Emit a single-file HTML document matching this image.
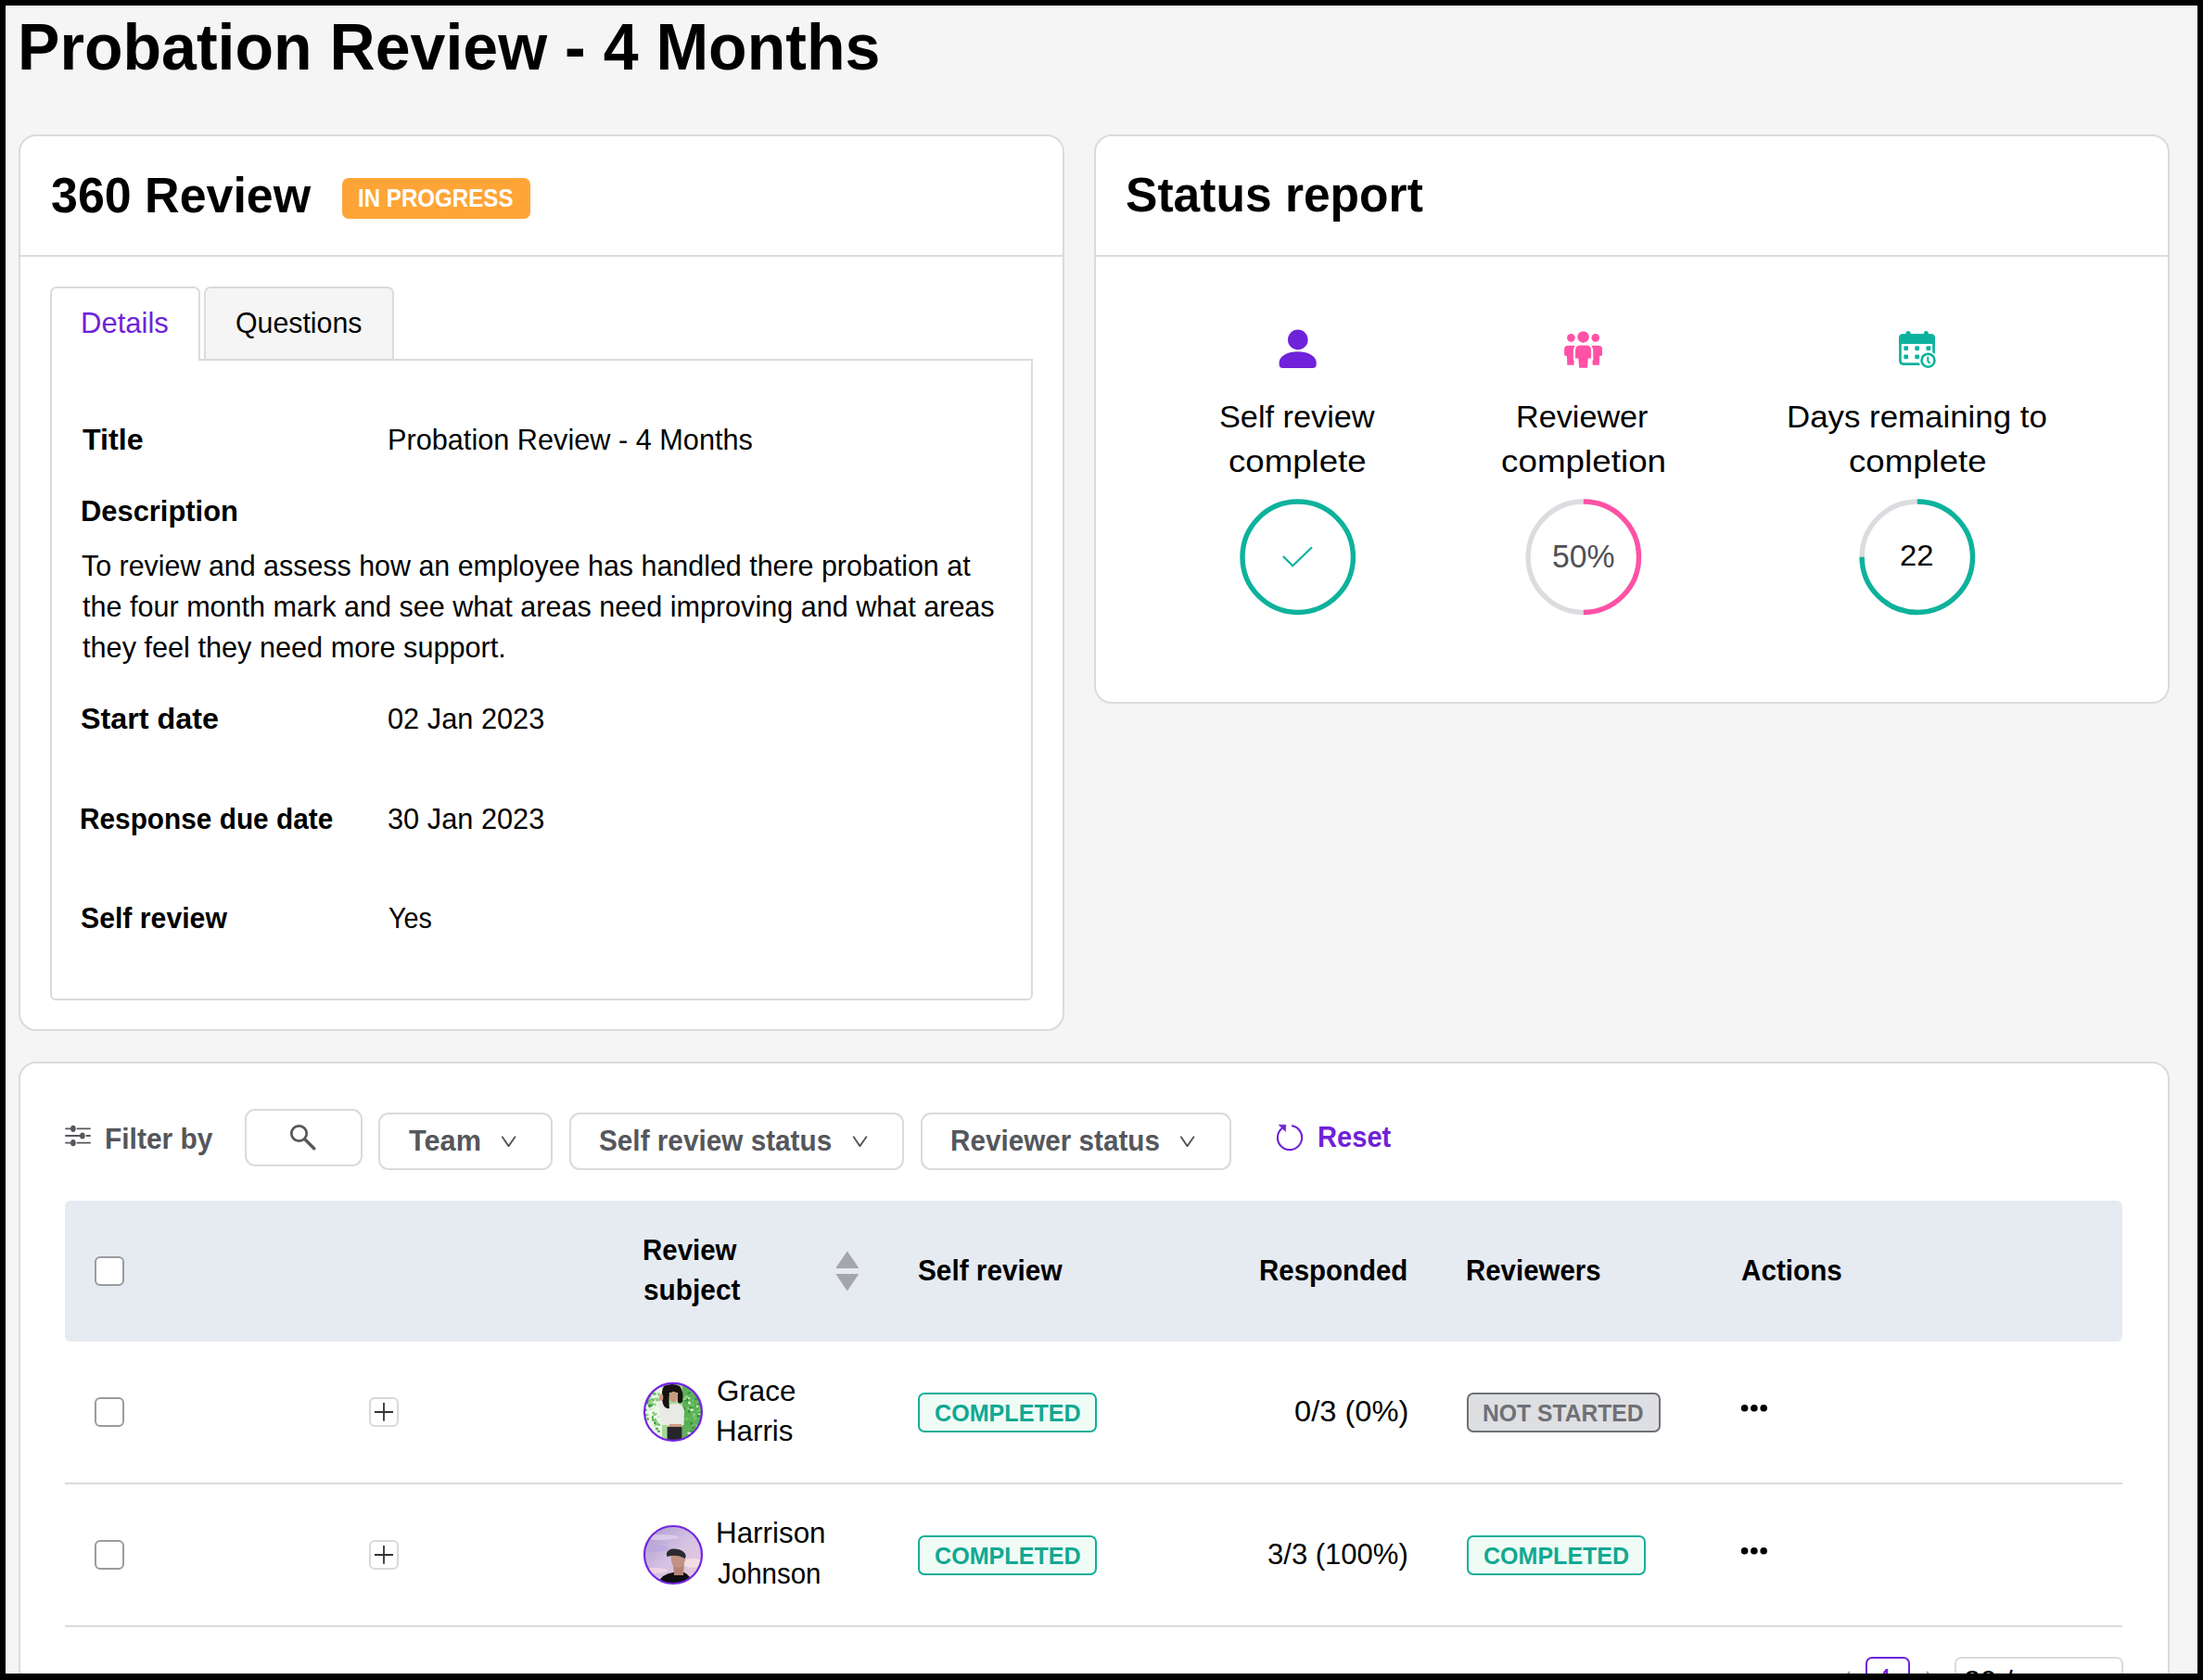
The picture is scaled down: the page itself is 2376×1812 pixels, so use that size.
<!DOCTYPE html>
<html><head><meta charset="utf-8"><style>
html,body{margin:0;padding:0}
body{width:2376px;height:1812px;overflow:hidden;background:#000;position:relative;font-family:"Liberation Sans",sans-serif}
.t{position:absolute;white-space:nowrap;transform-origin:0 0}
</style></head><body>
<div style="position:absolute;left:6px;top:6px;width:2364px;height:1799px;background:#F5F5F5;box-shadow:inset 0 0 0 1px #fff"></div>
<div class="t" style="left:19.36px;top:9.00px;font-size:69.75px;line-height:84px;font-weight:700;color:#000;transform:scaleX(0.9759);">Probation Review - 4 Months</div>
<div style="position:absolute;left:20px;top:145px;width:1128px;height:967px;background:#fff;border:2px solid #DADAE0;box-sizing:border-box;border-radius:19px"></div>
<div style="position:absolute;left:20px;top:275px;width:1128px;height:2px;background:#DADAE0"></div>
<div class="t" style="left:55.19px;top:177.60px;font-size:53.75px;line-height:64px;font-weight:700;color:#000;transform:scaleX(0.9666);">360 Review</div>
<div style="position:absolute;left:369px;top:192px;width:203px;height:44px;background:#FFA538;border-radius:7px"></div>
<div class="t" style="left:386.42px;top:198.40px;font-size:26.75px;line-height:32px;font-weight:700;color:#fff;transform:scaleX(0.9016);">IN PROGRESS</div>
<div style="position:absolute;left:54px;top:387px;width:1060px;height:692px;border:2px solid #DADAE0;box-sizing:border-box;border-radius:0 0 6px 6px;background:#fff"></div>
<div style="position:absolute;left:220px;top:309px;width:205px;height:78px;border:2px solid #DADAE0;border-bottom:none;box-sizing:border-box;border-radius:7px 7px 0 0;background:#F5F5F5"></div>
<div style="position:absolute;left:54px;top:309px;width:162px;height:80px;border:2px solid #DADAE0;border-bottom:none;box-sizing:border-box;border-radius:7px 7px 0 0;background:#fff"></div>
<div class="t" style="left:87.26px;top:330.40px;font-size:30.5px;line-height:37px;font-weight:400;color:#6F22D9;transform:scaleX(1.0173);">Details</div>
<div class="t" style="left:254.11px;top:330.00px;font-size:30.5px;line-height:37px;font-weight:400;color:#000;transform:scaleX(0.9937);">Questions</div>
<div class="t" style="left:88.54px;top:456.00px;font-size:30.75px;line-height:37px;font-weight:700;color:#000;transform:scaleX(1.0465);">Title</div>
<div class="t" style="left:418.21px;top:456.00px;font-size:30.75px;line-height:37px;font-weight:400;color:#000;transform:scaleX(0.9976);">Probation Review - 4 Months</div>
<div class="t" style="left:86.99px;top:532.50px;font-size:30.75px;line-height:37px;font-weight:700;color:#000;transform:scaleX(1.0045);">Description</div>
<div class="t" style="left:88.26px;top:592.40px;font-size:30.75px;line-height:37px;font-weight:400;color:#000;transform:scaleX(0.9890);">To review and assess how an employee has handled there probation at</div>
<div class="t" style="left:88.50px;top:636.00px;font-size:30.75px;line-height:37px;font-weight:400;color:#000;transform:scaleX(0.9939);">the four month mark and see what areas need improving and what areas</div>
<div class="t" style="left:88.50px;top:680.00px;font-size:30.75px;line-height:37px;font-weight:400;color:#000;transform:scaleX(0.9973);">they feel they need more support.</div>
<div class="t" style="left:87.25px;top:756.60px;font-size:30.75px;line-height:37px;font-weight:700;color:#000;transform:scaleX(1.0504);">Start date</div>
<div class="t" style="left:418.25px;top:756.60px;font-size:30.75px;line-height:37px;font-weight:400;color:#000;transform:scaleX(1.0003);">02 Jan 2023</div>
<div class="t" style="left:86.36px;top:864.60px;font-size:30.75px;line-height:37px;font-weight:700;color:#000;transform:scaleX(0.9690);">Response due date</div>
<div class="t" style="left:418.25px;top:864.60px;font-size:30.75px;line-height:37px;font-weight:400;color:#000;transform:scaleX(1.0003);">30 Jan 2023</div>
<div class="t" style="left:87.32px;top:971.70px;font-size:30.75px;line-height:37px;font-weight:700;color:#000;transform:scaleX(0.9828);">Self review</div>
<div class="t" style="left:418.80px;top:971.70px;font-size:30.75px;line-height:37px;font-weight:400;color:#000;transform:scaleX(0.9347);">Yes</div>
<div style="position:absolute;left:1180px;top:145px;width:1160px;height:614px;background:#fff;border:2px solid #DADAE0;box-sizing:border-box;border-radius:19px"></div>
<div style="position:absolute;left:1180px;top:275px;width:1160px;height:2px;background:#DADAE0"></div>
<div class="t" style="left:1214.32px;top:178.50px;font-size:52.25px;line-height:63px;font-weight:700;color:#000;transform:scaleX(0.9867);">Status report</div>
<div class="t" style="left:1314.83px;top:429.70px;font-size:32.75px;line-height:39px;font-weight:400;color:#000;transform:scaleX(1.0463);">Self review</div>
<div class="t" style="left:1325.30px;top:478.00px;font-size:32.75px;line-height:39px;font-weight:400;color:#000;transform:scaleX(1.1186);">complete</div>
<div class="t" style="left:1635.03px;top:429.70px;font-size:32.75px;line-height:39px;font-weight:400;color:#000;transform:scaleX(1.0439);">Reviewer</div>
<div class="t" style="left:1619.29px;top:478.00px;font-size:32.75px;line-height:39px;font-weight:400;color:#000;transform:scaleX(1.1245);">completion</div>
<div class="t" style="left:1927.07px;top:429.70px;font-size:32.75px;line-height:39px;font-weight:400;color:#000;transform:scaleX(1.0641);">Days remaining to</div>
<div class="t" style="left:1993.90px;top:478.00px;font-size:32.75px;line-height:39px;font-weight:400;color:#000;transform:scaleX(1.1186);">complete</div>
<div class="t" style="left:1673.92px;top:580.30px;font-size:34.25px;line-height:41px;font-weight:400;color:#505055;transform:scaleX(0.9871);">50%</div>
<div class="t" style="left:2049.39px;top:581.20px;font-size:30.5px;line-height:37px;font-weight:400;color:#000;transform:scaleX(1.0742);">22</div>
<div style="position:absolute;left:20px;top:1145px;width:2320px;height:700px;background:#fff;border:2px solid #DADAE0;box-sizing:border-box;border-radius:19px"></div>
<div class="t" style="left:113.34px;top:1209.50px;font-size:30.5px;line-height:37px;font-weight:700;color:#54565B;transform:scaleX(0.9820);">Filter by</div>
<div style="position:absolute;left:264px;top:1196px;width:127px;height:62px;border:2px solid #DADAE0;box-sizing:border-box;border-radius:11px;background:#fff"></div>
<div style="position:absolute;left:408px;top:1200px;width:188px;height:62px;border:2px solid #DADAE0;box-sizing:border-box;border-radius:11px;background:#fff"></div>
<div style="position:absolute;left:614px;top:1200px;width:361px;height:62px;border:2px solid #DADAE0;box-sizing:border-box;border-radius:11px;background:#fff"></div>
<div style="position:absolute;left:993px;top:1200px;width:335px;height:62px;border:2px solid #DADAE0;box-sizing:border-box;border-radius:11px;background:#fff"></div>
<div class="t" style="left:441.45px;top:1211.80px;font-size:30.5px;line-height:37px;font-weight:700;color:#55575C;transform:scaleX(1.0073);">Team</div>
<div class="t" style="left:646.43px;top:1211.80px;font-size:30.5px;line-height:37px;font-weight:700;color:#55575C;transform:scaleX(0.9750);">Self review status</div>
<div class="t" style="left:1024.85px;top:1211.80px;font-size:30.5px;line-height:37px;font-weight:700;color:#55575C;transform:scaleX(0.9729);">Reviewer status</div>
<div class="t" style="left:1420.59px;top:1207.70px;font-size:30.5px;line-height:37px;font-weight:700;color:#6F22D9;transform:scaleX(0.9548);">Reset</div>
<div style="position:absolute;left:70px;top:1295px;width:2219px;height:152px;background:#E6EAF1;border-radius:6px"></div>
<div class="t" style="left:692.67px;top:1330.20px;font-size:30.5px;line-height:37px;font-weight:700;color:#000;transform:scaleX(0.9656);">Review</div>
<div class="t" style="left:693.62px;top:1373.00px;font-size:30.5px;line-height:37px;font-weight:700;color:#000;transform:scaleX(0.9777);">subject</div>
<div class="t" style="left:989.52px;top:1351.50px;font-size:30.5px;line-height:37px;font-weight:700;color:#000;transform:scaleX(0.9760);">Self review</div>
<div class="t" style="left:1358.37px;top:1351.50px;font-size:30.5px;line-height:37px;font-weight:700;color:#000;transform:scaleX(0.9652);">Responded</div>
<div class="t" style="left:1581.17px;top:1351.50px;font-size:30.5px;line-height:37px;font-weight:700;color:#000;transform:scaleX(0.9645);">Reviewers</div>
<div class="t" style="left:1878.47px;top:1351.50px;font-size:30.5px;line-height:37px;font-weight:700;color:#000;transform:scaleX(0.9727);">Actions</div>
<div style="position:absolute;left:70px;top:1599px;width:2219px;height:2px;background:#DADAE0"></div>
<div style="position:absolute;left:70px;top:1753px;width:2219px;height:2px;background:#DADAE0"></div>
<div style="position:absolute;left:102px;top:1507px;width:32px;height:32px;border:2px solid #9A9BA0;box-sizing:border-box;border-radius:6px;background:#fff"></div>
<div style="position:absolute;left:398px;top:1507px;width:32px;height:32px;border:2px solid #D8D9DD;box-sizing:border-box;border-radius:6px;background:#fff"></div>
<div class="t" style="left:772.76px;top:1481.50px;font-size:30.5px;line-height:37px;font-weight:400;color:#000;transform:scaleX(1.0280);">Grace</div>
<div class="t" style="left:771.74px;top:1525.30px;font-size:30.5px;line-height:37px;font-weight:400;color:#000;transform:scaleX(1.0251);">Harris</div>
<div style="position:absolute;left:990px;top:1502px;width:193px;height:43px;border:2px solid #14AE99;box-sizing:border-box;border-radius:7px;background:#EFFCF6"></div>
<div class="t" style="left:1007.54px;top:1508.10px;font-size:26.25px;line-height:32px;font-weight:700;color:#12A892;transform:scaleX(0.9567);">COMPLETED</div>
<div class="t" style="left:1395.70px;top:1503.00px;font-size:31.5px;line-height:38px;font-weight:400;color:#000;transform:scaleX(1.0367);">0/3 (0%)</div>
<div style="position:absolute;left:1582px;top:1502px;width:209px;height:43px;border:2px solid #707176;box-sizing:border-box;border-radius:7px;background:#DEDFE3"></div>
<div class="t" style="left:1599.15px;top:1508.10px;font-size:26.25px;line-height:32px;font-weight:700;color:#6F7075;transform:scaleX(0.9401);">NOT STARTED</div>
<div style="position:absolute;left:102px;top:1661px;width:32px;height:32px;border:2px solid #9A9BA0;box-sizing:border-box;border-radius:6px;background:#fff"></div>
<div style="position:absolute;left:398px;top:1661px;width:32px;height:32px;border:2px solid #D8D9DD;box-sizing:border-box;border-radius:6px;background:#fff"></div>
<div class="t" style="left:771.73px;top:1634.80px;font-size:30.5px;line-height:37px;font-weight:400;color:#000;transform:scaleX(1.0284);">Harrison</div>
<div class="t" style="left:773.82px;top:1678.50px;font-size:30.5px;line-height:37px;font-weight:400;color:#000;transform:scaleX(0.9667);">Johnson</div>
<div style="position:absolute;left:990px;top:1656px;width:193px;height:43px;border:2px solid #14AE99;box-sizing:border-box;border-radius:7px;background:#EFFCF6"></div>
<div class="t" style="left:1007.54px;top:1662.20px;font-size:26.25px;line-height:32px;font-weight:700;color:#12A892;transform:scaleX(0.9567);">COMPLETED</div>
<div class="t" style="left:1367.27px;top:1657.20px;font-size:31.5px;line-height:38px;font-weight:400;color:#000;transform:scaleX(0.9851);">3/3 (100%)</div>
<div style="position:absolute;left:1582px;top:1656px;width:193px;height:43px;border:2px solid #14AE99;box-sizing:border-box;border-radius:7px;background:#EFFCF6"></div>
<div class="t" style="left:1599.85px;top:1662.20px;font-size:26.25px;line-height:32px;font-weight:700;color:#12A892;transform:scaleX(0.9536);">COMPLETED</div>
<div style="position:absolute;left:2012px;top:1787px;width:48px;height:48px;border:2px solid #6F22D9;box-sizing:border-box;border-radius:7px;background:#fff"></div>
<div style="position:absolute;left:2108px;top:1787px;width:182px;height:48px;border:2px solid #DADAE0;box-sizing:border-box;border-radius:7px;background:#fff"></div>
<div class="t" style="left:2030.26px;top:1791.60px;font-size:31.5px;line-height:38px;font-weight:700;color:#6F22D9;transform:scaleX(0.5220);">1</div>
<div class="t" style="left:2118.30px;top:1793.60px;font-size:31.5px;line-height:38px;font-weight:400;color:#000;transform:scaleX(1.0000);">20 / page</div>
<div style="position:absolute;left:102px;top:1355px;width:32px;height:32px;border:2px solid #9A9BA0;box-sizing:border-box;border-radius:6px;background:#fff"></div>
<svg style="position:absolute;left:0;top:0" width="2376" height="1812"><circle cx="1399.8" cy="366.4" r="10.8" fill="#6F22D9"/><path d="M1379.6,391 C1379.6,384 1389,379.3 1399.7,379.3 C1410.4,379.3 1419.7,384 1419.7,391 L1419.7,393 Q1419.7,396.9 1415.8,396.9 L1383.5,396.9 Q1379.6,396.9 1379.6,393 Z" fill="#6F22D9"/><g fill="#FF52A6" transform="translate(1682,350)"><circle cx="25.6" cy="13.4" r="6.25"/><circle cx="12.4" cy="14.4" r="4.3"/><circle cx="38.8" cy="14.4" r="4.3"/><path d="M17.1,36.6 L17.1,28 Q17.1,22.6 22.5,22.6 L28.7,22.6 Q34.1,22.6 34.1,28 L34.1,36.6 L30.9,36.6 L30,46.8 L21.2,46.8 L20.3,36.6 Z"/><path d="M5.1,32.7 L5.1,27 Q5.1,22.8 9.3,22.8 L16.8,22.8 Q14.9,25.5 14.9,29.2 L14.9,38.4 L15.7,39 L15.5,43.8 L8.3,43.8 L8,34.2 Q5.1,33.6 5.1,32.7 Z"/><path d="M46.1,32.7 L46.1,27 Q46.1,22.8 41.9,22.8 L34.4,22.8 Q36.3,25.5 36.3,29.2 L36.3,38.4 L35.5,39 L35.7,43.8 L42.9,43.8 L43.2,34.2 Q46.1,33.6 46.1,32.7 Z"/></g><g transform="translate(2042,350)"><path d="M7.45,20 L7.45,15.2 Q7.45,11.65 11,11.65 L40,11.65 Q43.55,11.65 43.55,15.2 L43.55,39 Q43.55,42.55 40,42.55 L11,42.55 Q7.45,42.55 7.45,39 Z" fill="none" stroke="#0DB29C" stroke-width="2.7"/><rect x="6.1" y="10.3" width="38.8" height="10.5" rx="4" fill="#0DB29C"/><rect x="6.1" y="15" width="38.8" height="5.8" fill="#0DB29C"/><rect x="13.6" y="7.1" width="5" height="5" rx="2.5" fill="#0DB29C"/><rect x="32.9" y="7.1" width="5" height="5" rx="2.5" fill="#0DB29C"/><g fill="#0DB29C"><rect x="11.3" y="23.2" width="4.8" height="4.8" rx="1.2"/><rect x="23.3" y="23.2" width="4.8" height="4.8" rx="1.2"/><rect x="35.5" y="23.2" width="4.8" height="4.8" rx="1.2"/><rect x="11.3" y="32.4" width="4.8" height="4.8" rx="1.2"/><rect x="23.3" y="32.4" width="4.8" height="4.8" rx="1.2"/></g><circle cx="37.5" cy="38.7" r="10" fill="#fff"/><circle cx="37.5" cy="38.7" r="7" fill="none" stroke="#0DB29C" stroke-width="2.6"/><path d="M37.3,35.6 L37.3,39.4 L38.9,41.3" fill="none" stroke="#0DB29C" stroke-width="2.1" stroke-linecap="round" stroke-linejoin="round"/></g><circle cx="1399.7" cy="600.75" r="59.7" fill="none" stroke="#0DB29C" stroke-width="5.4"/><path d="M1383.9,600 L1394.2,610.3 L1415,590.3" fill="none" stroke="#0DB29C" stroke-width="2.2"/><circle cx="1707.85" cy="600.75" r="59.7" fill="none" stroke="#DCDCE0" stroke-width="5.4"/><path d="M1707.85,541.05 A59.7,59.7 0 0 1 1707.85,660.45" fill="none" stroke="#FF52A6" stroke-width="5.4"/><circle cx="2067.85" cy="600.75" r="59.7" fill="none" stroke="#DCDCE0" stroke-width="5.4"/><path d="M2067.85,541.05 A59.7,59.7 0 1 1 2008.15,600.75" fill="none" stroke="#0DB29C" stroke-width="5.4"/><g stroke="#55575C" stroke-width="1.8" stroke-linecap="round" fill="#55575C"><path d="M71,1217.3 L78,1217.3 M83.4,1217.3 L97,1217.3 M71,1225 L88,1225 M93.4,1225 L97,1225 M71,1232.7 L78,1232.7 M83.4,1232.7 L97,1232.7" fill="none"/><ellipse cx="78.9" cy="1217.3" rx="2.8" ry="3.6" stroke="none"/><ellipse cx="88.9" cy="1225" rx="2.8" ry="3.6" stroke="none"/><ellipse cx="78.9" cy="1232.7" rx="2.8" ry="3.6" stroke="none"/></g><circle cx="322.5" cy="1222.5" r="8.2" fill="none" stroke="#55575C" stroke-width="2.7"/><path d="M329.6,1229.6 L338.8,1238.8" stroke="#55575C" stroke-width="3.4" stroke-linecap="round"/><path d="M541.8,1226.2 L548.5,1236.1 L555.5,1226.2" fill="none" stroke="#55575C" stroke-width="1.9" stroke-linecap="round" stroke-linejoin="round"/><path d="M920.6999999999999,1226.2 L927.4,1236.1 L934.4,1226.2" fill="none" stroke="#55575C" stroke-width="1.9" stroke-linecap="round" stroke-linejoin="round"/><path d="M1273.8,1226.2 L1280.5,1236.1 L1287.5,1226.2" fill="none" stroke="#55575C" stroke-width="1.9" stroke-linecap="round" stroke-linejoin="round"/><path d="M1393.2,1214.1 A13.1,13.1 0 1 1 1384.6,1215.6" fill="none" stroke="#6F22D9" stroke-width="2.1"/><path d="M1379.2,1213.2 L1386.8,1213.2 L1386.5,1220.4 Z" fill="#6F22D9" stroke="#6F22D9" stroke-width="0.6" stroke-linejoin="round"/><path d="M1995,1803 L1989.5,1809 L1995,1815 M2078,1803 L2083.5,1809 L2078,1815" fill="none" stroke="#8A8B90" stroke-width="1.8"/><path d="M913.8,1350.5 L925.3,1367.4 L902.3,1367.4 Z M902.3,1374.5 L925.3,1374.5 L913.8,1391.4 Z" fill="#A5A6AB" stroke="#A5A6AB" stroke-width="1.2" stroke-linejoin="round"/><path d="M414,1513 L414,1532.8 M404,1523 L424,1523" stroke="#333" stroke-width="1.8"/><path d="M414,1667 L414,1686.8 M404,1677 L424,1677" stroke="#333" stroke-width="1.8"/><circle cx="1881.6" cy="1518.7" r="3.8" fill="#000"/><circle cx="1891.9" cy="1518.7" r="3.8" fill="#000"/><circle cx="1902.2" cy="1518.7" r="3.8" fill="#000"/><circle cx="1881.6" cy="1672.8" r="3.8" fill="#000"/><circle cx="1891.9" cy="1672.8" r="3.8" fill="#000"/><circle cx="1902.2" cy="1672.8" r="3.8" fill="#000"/><defs><clipPath id="av1"><circle cx="726" cy="1522.8" r="31"/></clipPath><clipPath id="av2"><circle cx="726" cy="1677" r="31"/></clipPath><linearGradient id="sky" x1="0" y1="0" x2="1" y2="1"><stop offset="0" stop-color="#A895CC"/><stop offset="0.5" stop-color="#D5C2E3"/><stop offset="1" stop-color="#EDCAD8"/></linearGradient></defs><g clip-path="url(#av1)"><rect x="694" y="1491" width="64" height="64" fill="#A7D898"/><rect x="694" y="1491" width="20" height="64" fill="#EAF5E5"/><rect x="736" y="1491" width="22" height="64" fill="#5DB157"/><ellipse cx="753.1" cy="1520.8" rx="2.2" ry="1.2" fill="#8FD07E"/><ellipse cx="745.4" cy="1521.4" rx="2.1" ry="1.1" fill="#8FD07E"/><ellipse cx="745.8" cy="1535.4" rx="1.8" ry="1.4" fill="#2F8F3C"/><ellipse cx="747.2" cy="1495.0" rx="1.3" ry="1.2" fill="#2F8F3C"/><ellipse cx="695.9" cy="1520.7" rx="1.8" ry="1.2" fill="#3A9A44"/><ellipse cx="709.0" cy="1509.8" rx="1.9" ry="1.5" fill="#6CC35E"/><ellipse cx="711.8" cy="1554.8" rx="2.0" ry="1.3" fill="#8FD07E"/><ellipse cx="708.7" cy="1509.5" rx="1.8" ry="1.1" fill="#8FD07E"/><ellipse cx="700.9" cy="1509.6" rx="2.3" ry="1.8" fill="#8FD07E"/><ellipse cx="694.0" cy="1504.4" rx="1.7" ry="2.0" fill="#6CC35E"/><ellipse cx="711.3" cy="1496.6" rx="1.0" ry="1.4" fill="#FFFFFF"/><ellipse cx="753.1" cy="1499.6" rx="1.1" ry="1.1" fill="#5DB85A"/><ellipse cx="745.0" cy="1502.4" rx="1.3" ry="1.5" fill="#8FD07E"/><ellipse cx="757.1" cy="1540.2" rx="1.9" ry="1.1" fill="#3A9A44"/><ellipse cx="711.3" cy="1553.1" rx="2.4" ry="1.0" fill="#FFFFFF"/><ellipse cx="706.0" cy="1554.7" rx="1.1" ry="1.1" fill="#8FD07E"/><ellipse cx="722.3" cy="1491.6" rx="2.2" ry="1.4" fill="#FFFFFF"/><ellipse cx="698.8" cy="1504.4" rx="1.0" ry="1.4" fill="#F4FAF2"/><ellipse cx="702.7" cy="1515.7" rx="1.4" ry="1.2" fill="#4FAE50"/><ellipse cx="704.1" cy="1531.3" rx="2.0" ry="1.4" fill="#F4FAF2"/><ellipse cx="697.0" cy="1498.0" rx="1.3" ry="1.7" fill="#FFFFFF"/><ellipse cx="710.4" cy="1543.7" rx="1.4" ry="1.2" fill="#3A9A44"/><ellipse cx="740.1" cy="1495.4" rx="1.7" ry="1.7" fill="#4FAE50"/><ellipse cx="707.6" cy="1549.6" rx="1.1" ry="1.4" fill="#6CC35E"/><ellipse cx="709.9" cy="1494.0" rx="1.5" ry="1.6" fill="#FFFFFF"/><ellipse cx="702.4" cy="1514.2" rx="2.4" ry="1.7" fill="#3A9A44"/><ellipse cx="738.2" cy="1528.4" rx="1.8" ry="1.9" fill="#4FAE50"/><ellipse cx="698.3" cy="1510.9" rx="2.4" ry="1.1" fill="#4FAE50"/><ellipse cx="751.6" cy="1538.2" rx="1.2" ry="2.0" fill="#5DB85A"/><ellipse cx="748.9" cy="1551.4" rx="2.2" ry="1.6" fill="#2F8F3C"/><ellipse cx="699.1" cy="1531.9" rx="2.2" ry="1.7" fill="#FFFFFF"/><ellipse cx="747.7" cy="1496.4" rx="1.7" ry="1.3" fill="#DDEFD5"/><ellipse cx="699.6" cy="1492.4" rx="1.7" ry="1.6" fill="#8FD07E"/><ellipse cx="752.9" cy="1507.4" rx="1.5" ry="1.1" fill="#2F8F3C"/><ellipse cx="742.2" cy="1512.9" rx="1.7" ry="1.2" fill="#3A9A44"/><ellipse cx="742.3" cy="1503.8" rx="1.5" ry="1.6" fill="#4FAE50"/><ellipse cx="748.3" cy="1536.5" rx="2.2" ry="1.1" fill="#6CC35E"/><ellipse cx="747.2" cy="1515.5" rx="1.7" ry="1.3" fill="#8FD07E"/><ellipse cx="747.7" cy="1553.9" rx="1.4" ry="1.8" fill="#3A9A44"/><ellipse cx="711.8" cy="1529.9" rx="1.8" ry="1.3" fill="#FFFFFF"/><ellipse cx="744.7" cy="1492.2" rx="1.6" ry="1.2" fill="#4FAE50"/><ellipse cx="743.2" cy="1508.1" rx="1.2" ry="1.0" fill="#DDEFD5"/><ellipse cx="745.7" cy="1552.3" rx="1.3" ry="1.8" fill="#5DB85A"/><ellipse cx="710.4" cy="1536.7" rx="1.7" ry="1.0" fill="#3A9A44"/><ellipse cx="708.5" cy="1540.8" rx="1.6" ry="1.8" fill="#4FAE50"/><ellipse cx="752.0" cy="1496.6" rx="1.5" ry="1.5" fill="#5DB85A"/><ellipse cx="706.6" cy="1547.8" rx="1.5" ry="1.6" fill="#6CC35E"/><ellipse cx="750.3" cy="1542.0" rx="1.6" ry="1.7" fill="#6CC35E"/><ellipse cx="707.1" cy="1537.2" rx="1.3" ry="1.9" fill="#8FD07E"/><ellipse cx="756.8" cy="1553.6" rx="2.4" ry="1.9" fill="#8FD07E"/><ellipse cx="710.8" cy="1537.0" rx="1.5" ry="1.1" fill="#6CC35E"/><ellipse cx="743.2" cy="1522.2" rx="1.3" ry="1.9" fill="#2F8F3C"/><ellipse cx="752.6" cy="1521.1" rx="2.3" ry="1.5" fill="#8FD07E"/><ellipse cx="737.4" cy="1519.2" rx="1.8" ry="1.7" fill="#3A9A44"/><ellipse cx="742.5" cy="1519.1" rx="1.4" ry="1.7" fill="#8FD07E"/><ellipse cx="748.0" cy="1526.8" rx="1.9" ry="2.0" fill="#6CC35E"/><ellipse cx="749.7" cy="1530.0" rx="2.2" ry="2.0" fill="#6CC35E"/><ellipse cx="706.9" cy="1525.3" rx="1.8" ry="1.0" fill="#6CC35E"/><ellipse cx="756.0" cy="1524.0" rx="1.8" ry="2.0" fill="#3A9A44"/><ellipse cx="701.8" cy="1497.0" rx="1.1" ry="1.5" fill="#4FAE50"/><ellipse cx="753.1" cy="1508.2" rx="1.7" ry="1.3" fill="#3A9A44"/><ellipse cx="751.7" cy="1550.9" rx="1.7" ry="1.1" fill="#3A9A44"/><ellipse cx="720.9" cy="1492.9" rx="1.2" ry="1.8" fill="#FFFFFF"/><ellipse cx="695.5" cy="1503.4" rx="1.0" ry="1.3" fill="#F4FAF2"/><ellipse cx="740.3" cy="1506.6" rx="1.1" ry="1.7" fill="#3A9A44"/><ellipse cx="701.9" cy="1523.7" rx="2.0" ry="1.7" fill="#FFFFFF"/><ellipse cx="750.2" cy="1492.5" rx="1.6" ry="1.5" fill="#5DB85A"/><ellipse cx="704.2" cy="1504.1" rx="1.7" ry="1.9" fill="#F4FAF2"/><ellipse cx="708.9" cy="1538.4" rx="2.3" ry="1.3" fill="#FFFFFF"/><ellipse cx="708.0" cy="1554.9" rx="1.2" ry="1.2" fill="#8FD07E"/><ellipse cx="740.5" cy="1507.6" rx="1.6" ry="1.9" fill="#2F8F3C"/><ellipse cx="706.8" cy="1531.2" rx="1.1" ry="1.6" fill="#6CC35E"/><ellipse cx="757.9" cy="1544.3" rx="1.1" ry="1.1" fill="#DDEFD5"/><ellipse cx="696.4" cy="1526.3" rx="1.2" ry="1.2" fill="#3A9A44"/><ellipse cx="707.1" cy="1544.8" rx="2.3" ry="1.1" fill="#FFFFFF"/><ellipse cx="698.0" cy="1551.9" rx="1.1" ry="1.1" fill="#3A9A44"/><ellipse cx="696.6" cy="1503.8" rx="1.6" ry="1.7" fill="#CDE9C2"/><ellipse cx="704.6" cy="1523.8" rx="1.5" ry="1.1" fill="#6CC35E"/><ellipse cx="747.9" cy="1547.0" rx="2.3" ry="1.6" fill="#5DB85A"/><ellipse cx="706.2" cy="1528.4" rx="2.1" ry="1.3" fill="#FFFFFF"/><ellipse cx="752.3" cy="1538.6" rx="1.2" ry="1.9" fill="#DDEFD5"/><ellipse cx="702.5" cy="1512.1" rx="2.1" ry="1.8" fill="#FFFFFF"/><ellipse cx="698.5" cy="1512.9" rx="1.1" ry="1.9" fill="#3A9A44"/><ellipse cx="757.4" cy="1548.8" rx="1.3" ry="1.9" fill="#2F8F3C"/><ellipse cx="758.0" cy="1532.1" rx="1.2" ry="1.4" fill="#5DB85A"/><ellipse cx="700.9" cy="1506.2" rx="1.6" ry="1.1" fill="#3A9A44"/><ellipse cx="706.5" cy="1515.0" rx="1.4" ry="1.3" fill="#8FD07E"/><ellipse cx="748.2" cy="1497.4" rx="2.1" ry="1.1" fill="#3A9A44"/><ellipse cx="696.9" cy="1550.5" rx="1.5" ry="2.0" fill="#4FAE50"/><ellipse cx="748.8" cy="1525.7" rx="1.1" ry="1.9" fill="#8FD07E"/><ellipse cx="739.9" cy="1509.9" rx="2.1" ry="1.6" fill="#2F8F3C"/><ellipse cx="737.8" cy="1494.4" rx="2.0" ry="1.1" fill="#6CC35E"/><ellipse cx="757.3" cy="1551.4" rx="2.1" ry="1.2" fill="#2F8F3C"/><ellipse cx="740.0" cy="1507.1" rx="1.3" ry="1.5" fill="#DDEFD5"/><ellipse cx="754.0" cy="1537.3" rx="1.2" ry="2.0" fill="#3A9A44"/><ellipse cx="709.7" cy="1536.2" rx="1.9" ry="1.5" fill="#6CC35E"/><ellipse cx="707.0" cy="1494.3" rx="1.2" ry="1.4" fill="#4FAE50"/><ellipse cx="710.8" cy="1528.3" rx="1.5" ry="1.7" fill="#CDE9C2"/><ellipse cx="746.2" cy="1499.8" rx="2.0" ry="1.2" fill="#6CC35E"/><ellipse cx="701.3" cy="1548.1" rx="1.4" ry="1.6" fill="#FFFFFF"/><ellipse cx="740.4" cy="1535.7" rx="1.9" ry="1.8" fill="#4FAE50"/><ellipse cx="706.1" cy="1506.9" rx="2.2" ry="1.0" fill="#F4FAF2"/><ellipse cx="697.9" cy="1508.3" rx="1.0" ry="1.0" fill="#CDE9C2"/><ellipse cx="708.2" cy="1508.8" rx="2.3" ry="1.2" fill="#8FD07E"/><ellipse cx="709.0" cy="1553.8" rx="1.7" ry="1.2" fill="#3A9A44"/><ellipse cx="747.7" cy="1495.8" rx="1.6" ry="1.8" fill="#2F8F3C"/><ellipse cx="747.6" cy="1540.2" rx="1.6" ry="1.3" fill="#3A9A44"/><ellipse cx="745.8" cy="1514.6" rx="2.2" ry="1.6" fill="#5DB85A"/><ellipse cx="746.9" cy="1502.8" rx="1.5" ry="1.1" fill="#5DB85A"/><ellipse cx="750.0" cy="1496.0" rx="1.6" ry="1.6" fill="#2F8F3C"/><ellipse cx="746.2" cy="1520.7" rx="2.1" ry="1.1" fill="#DDEFD5"/><ellipse cx="707.6" cy="1533.4" rx="2.0" ry="1.5" fill="#8FD07E"/><ellipse cx="742.9" cy="1512.0" rx="1.3" ry="1.7" fill="#4FAE50"/><ellipse cx="738.0" cy="1508.9" rx="2.1" ry="1.3" fill="#8FD07E"/><ellipse cx="753.8" cy="1548.3" rx="1.1" ry="1.8" fill="#4FAE50"/><ellipse cx="695.5" cy="1534.3" rx="2.1" ry="1.7" fill="#CDE9C2"/><ellipse cx="703.9" cy="1528.8" rx="1.2" ry="1.8" fill="#4FAE50"/><ellipse cx="750.4" cy="1509.0" rx="1.3" ry="1.1" fill="#2F8F3C"/><ellipse cx="704.2" cy="1509.9" rx="1.9" ry="1.8" fill="#6CC35E"/><ellipse cx="698.1" cy="1526.0" rx="1.5" ry="1.3" fill="#8FD07E"/><ellipse cx="700.7" cy="1511.1" rx="1.9" ry="1.1" fill="#6CC35E"/><ellipse cx="741.7" cy="1532.5" rx="2.0" ry="1.5" fill="#4FAE50"/><ellipse cx="752.1" cy="1512.6" rx="1.6" ry="1.3" fill="#3A9A44"/><ellipse cx="756.0" cy="1534.0" rx="1.7" ry="1.8" fill="#3A9A44"/><ellipse cx="698.6" cy="1530.6" rx="1.6" ry="1.8" fill="#6CC35E"/><ellipse cx="745.6" cy="1544.4" rx="2.3" ry="1.6" fill="#3A9A44"/><ellipse cx="745.3" cy="1518.0" rx="2.3" ry="1.2" fill="#3A9A44"/><ellipse cx="704.4" cy="1531.7" rx="1.4" ry="1.4" fill="#4FAE50"/><ellipse cx="750.7" cy="1521.2" rx="1.2" ry="1.6" fill="#5DB85A"/><ellipse cx="743.7" cy="1502.5" rx="2.1" ry="1.0" fill="#2F8F3C"/><ellipse cx="751.2" cy="1516.8" rx="2.3" ry="1.6" fill="#DDEFD5"/><ellipse cx="754.3" cy="1526.2" rx="1.4" ry="1.9" fill="#DDEFD5"/><ellipse cx="752.5" cy="1512.9" rx="2.1" ry="1.1" fill="#8FD07E"/><ellipse cx="749.2" cy="1516.6" rx="2.3" ry="1.8" fill="#4FAE50"/><ellipse cx="757.4" cy="1533.1" rx="2.2" ry="1.9" fill="#4FAE50"/><ellipse cx="751.9" cy="1519.8" rx="2.0" ry="1.6" fill="#4FAE50"/><ellipse cx="704.1" cy="1501.0" rx="1.2" ry="1.9" fill="#FFFFFF"/><ellipse cx="745.8" cy="1499.4" rx="2.4" ry="1.3" fill="#5DB85A"/><ellipse cx="743.3" cy="1491.1" rx="2.3" ry="1.1" fill="#DDEFD5"/><ellipse cx="702.2" cy="1513.5" rx="2.2" ry="1.7" fill="#8FD07E"/><ellipse cx="699.3" cy="1538.9" rx="1.0" ry="1.2" fill="#FFFFFF"/><ellipse cx="706.4" cy="1534.7" rx="1.3" ry="1.5" fill="#3A9A44"/><ellipse cx="747.2" cy="1510.9" rx="1.6" ry="1.6" fill="#6CC35E"/><ellipse cx="757.8" cy="1533.7" rx="1.5" ry="1.7" fill="#2F8F3C"/><ellipse cx="700.8" cy="1516.2" rx="2.0" ry="1.8" fill="#3A9A44"/><ellipse cx="701.8" cy="1519.5" rx="2.0" ry="1.5" fill="#CDE9C2"/><ellipse cx="743.4" cy="1545.8" rx="2.1" ry="1.2" fill="#DDEFD5"/><ellipse cx="710.4" cy="1503.8" rx="1.5" ry="1.9" fill="#8FD07E"/><ellipse cx="699.9" cy="1500.0" rx="1.2" ry="1.6" fill="#8FD07E"/><ellipse cx="705.5" cy="1503.4" rx="2.2" ry="1.6" fill="#6CC35E"/><ellipse cx="699.8" cy="1505.5" rx="2.4" ry="1.4" fill="#4FAE50"/><ellipse cx="743.4" cy="1512.9" rx="1.6" ry="1.5" fill="#DDEFD5"/><ellipse cx="746.6" cy="1515.7" rx="2.3" ry="1.6" fill="#6CC35E"/><ellipse cx="740.5" cy="1530.2" rx="2.4" ry="1.8" fill="#6CC35E"/><ellipse cx="695.2" cy="1512.2" rx="1.4" ry="1.4" fill="#FFFFFF"/><ellipse cx="700.6" cy="1536.7" rx="2.1" ry="1.9" fill="#FFFFFF"/><ellipse cx="739.7" cy="1554.2" rx="2.4" ry="1.7" fill="#8FD07E"/><ellipse cx="753.9" cy="1527.3" rx="1.9" ry="1.2" fill="#2F8F3C"/><ellipse cx="699.3" cy="1506.7" rx="2.0" ry="1.3" fill="#CDE9C2"/><ellipse cx="753.5" cy="1514.1" rx="2.2" ry="1.5" fill="#3A9A44"/><ellipse cx="740.7" cy="1506.3" rx="1.8" ry="1.6" fill="#8FD07E"/><ellipse cx="752.2" cy="1554.5" rx="1.5" ry="1.1" fill="#DDEFD5"/><ellipse cx="753.8" cy="1491.2" rx="2.3" ry="1.2" fill="#5DB85A"/><ellipse cx="705.9" cy="1526.1" rx="1.6" ry="1.4" fill="#8FD07E"/><ellipse cx="744.1" cy="1550.5" rx="1.2" ry="1.8" fill="#5DB85A"/><ellipse cx="748.2" cy="1549.0" rx="1.8" ry="1.8" fill="#8FD07E"/><path d="M710,1512 Q711,1505 714,1508 L717,1516 Q722,1514 731,1514 Q737,1515 738,1522 L737.5,1537 L713,1537 L712,1522 Z" fill="#E9E9E6"/><path d="M716,1495 Q725,1491 733,1495 Q738,1501 736,1512 Q733,1515 731,1512 L731,1502 L722,1502 Q721,1512 722,1519 Q717,1520 715,1514 Q712,1504 716,1495 Z" fill="#17110F"/><ellipse cx="726.5" cy="1506.5" rx="4.6" ry="5.8" fill="#C99A82"/><path d="M710.5,1511 Q711,1503 714,1503 Q716,1505 715,1510 Z" fill="#C99A82"/><rect x="722" y="1536" width="13" height="3" fill="#C99A82"/><rect x="719.6" y="1539" width="16" height="18" fill="#26262A"/></g><g clip-path="url(#av2)"><rect x="694" y="1645" width="64" height="64" fill="url(#sky)"/><ellipse cx="705" cy="1670" rx="16" ry="4" fill="#BBA8DC" opacity="0.8"/><ellipse cx="712" cy="1658" rx="20" ry="3" fill="#E2D6F0" opacity="0.7"/><ellipse cx="748" cy="1686" rx="14" ry="5" fill="#F6E2E4" opacity="0.8"/><ellipse cx="706" cy="1694" rx="14" ry="3" fill="#F3DCE2" opacity="0.8"/><path d="M709,1711 Q711,1698 726,1696 L738,1696 Q746,1700 747,1711 Z" fill="#0E0E10"/><path d="M726,1689 L727,1699 L737,1699 L738,1686 Z" fill="#B68476"/><path d="M723.6,1680 Q724,1691 731,1691 Q739,1690 739.2,1680 L738,1676 L725,1676 Z" fill="#C39182"/><path d="M718.8,1676 Q720,1670 728,1670.5 Q738,1671 739.7,1678 L739,1681 Q732,1677 724,1678 L719.5,1679 Z" fill="#2B2B31"/></g><circle cx="726" cy="1522.8" r="31" fill="none" stroke="#7427E0" stroke-width="2.2"/><circle cx="726" cy="1677" r="31" fill="none" stroke="#7427E0" stroke-width="2.2"/></svg>
<div style="position:absolute;left:0;top:1805px;width:2376px;height:7px;background:#000"></div>
</body></html>
